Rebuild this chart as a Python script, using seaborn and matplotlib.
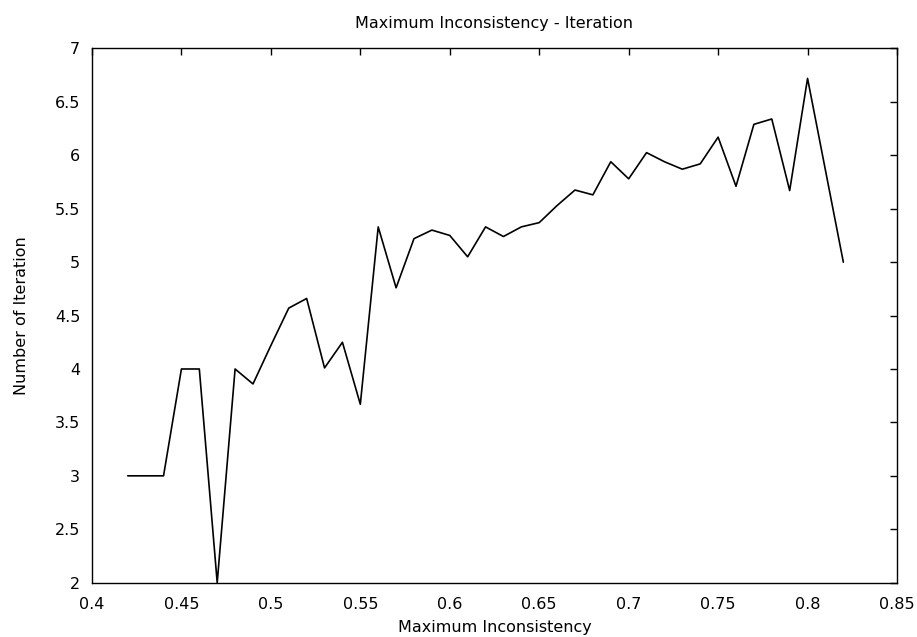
import matplotlib
matplotlib.use("Agg")
import matplotlib.pyplot as plt
import seaborn as sns
import pandas as pd

x_values = [0.42, 0.43, 0.44, 0.45, 0.46, 0.47, 0.48, 0.49, 0.50, 0.51,
            0.52, 0.53, 0.54, 0.55, 0.56, 0.57, 0.58, 0.59, 0.60, 0.61,
            0.62, 0.63, 0.64, 0.65, 0.66, 0.67, 0.68, 0.69, 0.70, 0.71,
            0.72, 0.73, 0.74, 0.75, 0.76, 0.77, 0.78, 0.79, 0.80, 0.81, 0.82]
y_values = [3.0, 3.0, 3.0, 4.0, 4.0, 2.0, 4.0, 3.86, 4.22, 4.57,
            4.66, 4.01, 4.25, 3.67, 5.33, 4.76, 5.22, 5.30, 5.25, 5.05,
            5.33, 5.24, 5.33, 5.37, 5.53, 5.675, 5.63, 5.94, 5.78, 6.025,
            5.94, 5.87, 5.92, 6.17, 5.71, 6.29, 6.34, 5.67, 6.72, 5.86, 5.0]
x_ticks = [0.4, 0.45, 0.5, 0.55, 0.6, 0.65, 0.7, 0.75, 0.8, 0.85]
x_tick_labels = ["0.4", "0.45", "0.5", "0.55", "0.6", "0.65", "0.7", "0.75", "0.8", "0.85"]
y_ticks = [2, 2.5, 3, 3.5, 4, 4.5, 5, 5.5, 6, 6.5, 7]
y_tick_labels = ["2", "2.5", "3", "3.5", "4", "4.5", "5", "5.5", "6", "6.5", "7"]

sns.set_style("white")
plt.rcParams['font.family'] = ['DejaVu Sans']
plt.rcParams['text.color'] = 'black'
plt.rcParams['axes.labelcolor'] = 'black'
plt.rcParams['axes.titlecolor'] = 'black'

df = pd.DataFrame({"x": x_values, "y": y_values})

fig = plt.figure(figsize=(9.17, 6.37), dpi=100)
ax = fig.add_axes([0.1003, 0.0853, 0.8779, 0.8386])
sns.lineplot(data=df, x="x", y="y", ax=ax, color="black", linewidth=1.2)

ax.set_xlim(0.4, 0.85)
ax.set_ylim(2, 7)
ax.set_xticks(x_ticks)
ax.set_xticklabels(x_tick_labels)
ax.set_yticks(y_ticks)
ax.set_yticklabels(y_tick_labels)
ax.tick_params(direction="in", length=5.3, width=1, top=True, right=True,
               labelsize=11.5, colors="black")
ax.tick_params(axis="x", pad=10)
ax.tick_params(axis="y", pad=8.4)
for s in ax.spines.values():
    s.set_color("black")
    s.set_linewidth(1)
ax.set_xlabel("Maximum Inconsistency", fontsize=11.5, labelpad=6, color="black")
ax.set_ylabel("Number of Iteration", fontsize=11.5, labelpad=19, color="black")
ax.set_title("Maximum Inconsistency - Iteration", fontsize=11.5, pad=15, color="black")

fig.savefig("out.png", dpi=100)
